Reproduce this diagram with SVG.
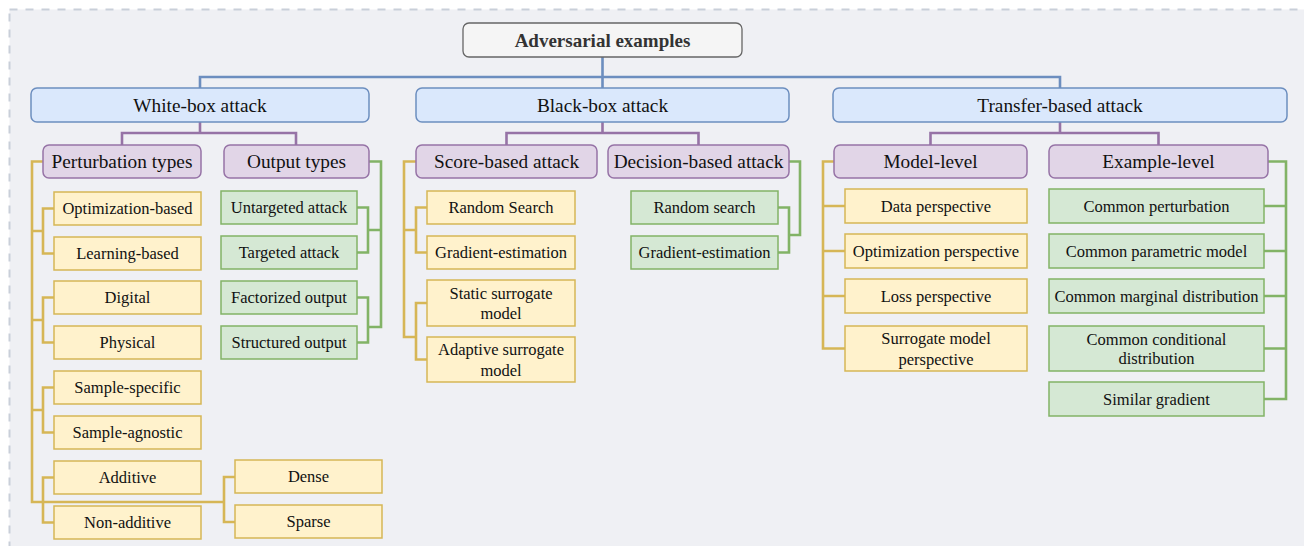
<svg xmlns="http://www.w3.org/2000/svg" width="1304" height="546" viewBox="0 0 1304 546">
<style>
text{font-family:"Liberation Serif","Times New Roman",serif;fill:#111;text-anchor:middle;dominant-baseline:central}
.t0{font-size:19px;font-weight:bold;fill:#333}
.t1{font-size:19.3px}
.t2{font-size:16.5px}
.root{fill:#f5f5f5;stroke:#666;stroke-width:1.3}
.blue{fill:#dae8fc;stroke:#6c8ebf;stroke-width:1.5}
.pur{fill:#e1d5e7;stroke:#9673a6;stroke-width:1.5}
.yel{fill:#fff2cc;stroke:#d6b656;stroke-width:1.5}
.grn{fill:#d5e8d4;stroke:#82b366;stroke-width:1.5}
.c{fill:none;stroke-width:2.6;stroke-linejoin:miter}
.cb{stroke:#6c8ebf}.cp{stroke:#9673a6}.cy{stroke:#d6b656}.cg{stroke:#82b366}
</style>
<rect x="9.5" y="9.5" width="1310" height="560" fill="#eff0f4" stroke="#c9cfd9" stroke-width="2" stroke-dasharray="8 8"/>
<g id="connectors">
<path class="c cb" d="M602.5,57V88M200,88V77H1060V88"/>
<path class="c cp" d="M200,122V133M122,145V133H296V145M602.5,122V133M506.5,145V133H698.5V145M1060,122V133M930.5,145V133H1158.5V145"/>
<path class="c cy" d="M43,161.5H32V502H224M235,477H224V522H235M54,208.5H43V253.5H54M32,231H43M54,297.5H43V342.5H54M32,320H43M54,387.5H43V432.5H54M32,410H43M54,477.5H43V522.5H54"/>
<path class="c cg" d="M369,161.5H381V327H368M357,207.5H368V252.5H357M368,230H381M357,297.5H368V342.5H357"/>
<path class="c cy" d="M416,161.5H404V337H416M427,207.5H416V252.5H427M404,230H416M427,303H416V359.5H427"/>
<path class="c cg" d="M789,161.5H800V235H789M778,207.5H789V252.5H778"/>
<path class="c cy" d="M834,161.5H823V348.5H845M823,206H845M823,251H845M823,296H845"/>
<path class="c cg" d="M1268,161.5H1286V399H1264M1286,206H1264M1286,251H1264M1286,296H1264M1286,348.5H1264"/>
</g>
<g id="root"><rect class="root" x="463" y="23" width="279" height="34" rx="6"/><text class="t0" x="602.5" y="40">Adversarial examples</text></g>
<g id="white-box"><rect class="blue" x="31" y="88" width="338" height="34" rx="6"/><text class="t1" x="200" y="105">White-box attack</text></g>
<g id="black-box"><rect class="blue" x="416" y="88" width="373" height="34" rx="6"/><text class="t1" x="602.5" y="105">Black-box attack</text></g>
<g id="transfer"><rect class="blue" x="833" y="88" width="454" height="34" rx="6"/><text class="t1" x="1060" y="105">Transfer-based attack</text></g>
<g id="perturbation-types"><rect class="pur" x="43" y="145" width="158" height="33" rx="6"/><text class="t1" x="122" y="161.5">Perturbation types</text></g>
<g id="output-types"><rect class="pur" x="224" y="145" width="145" height="33" rx="6"/><text class="t1" x="296.5" y="161.5">Output types</text></g>
<g id="score-based"><rect class="pur" x="416" y="145" width="181" height="33" rx="6"/><text class="t1" x="506.5" y="161.5">Score-based attack</text></g>
<g id="decision-based"><rect class="pur" x="608" y="145" width="181" height="33" rx="6"/><text class="t1" x="698.5" y="161.5">Decision-based attack</text></g>
<g id="model-level"><rect class="pur" x="834" y="145" width="193" height="33" rx="6"/><text class="t1" x="930.5" y="161.5">Model-level</text></g>
<g id="example-level"><rect class="pur" x="1049" y="145" width="219" height="33" rx="6"/><text class="t1" x="1158.5" y="161.5">Example-level</text></g>
<g id="optimization-based"><rect class="yel" x="54" y="192" width="147" height="33"/><text class="t2" x="127.5" y="208.5">Optimization-based</text></g>
<g id="learning-based"><rect class="yel" x="54" y="237" width="147" height="33"/><text class="t2" x="127.5" y="253.5">Learning-based</text></g>
<g id="digital"><rect class="yel" x="54" y="281" width="147" height="33"/><text class="t2" x="127.5" y="297.5">Digital</text></g>
<g id="physical"><rect class="yel" x="54" y="326" width="147" height="33"/><text class="t2" x="127.5" y="342.5">Physical</text></g>
<g id="sample-specific"><rect class="yel" x="54" y="371" width="147" height="33"/><text class="t2" x="127.5" y="387.5">Sample-specific</text></g>
<g id="sample-agnostic"><rect class="yel" x="54" y="416" width="147" height="33"/><text class="t2" x="127.5" y="432.5">Sample-agnostic</text></g>
<g id="additive"><rect class="yel" x="54" y="461" width="147" height="33"/><text class="t2" x="127.5" y="477.5">Additive</text></g>
<g id="non-additive"><rect class="yel" x="54" y="506" width="147" height="33"/><text class="t2" x="127.5" y="522.5">Non-additive</text></g>
<g id="dense"><rect class="yel" x="235" y="460" width="147" height="33"/><text class="t2" x="308.5" y="476.5">Dense</text></g>
<g id="sparse"><rect class="yel" x="235" y="505" width="147" height="33"/><text class="t2" x="308.5" y="521.5">Sparse</text></g>
<g id="untargeted"><rect class="grn" x="221" y="191" width="136" height="33"/><text class="t2" x="289" y="207.5">Untargeted attack</text></g>
<g id="targeted"><rect class="grn" x="221" y="236" width="136" height="33"/><text class="t2" x="289" y="252.5">Targeted attack</text></g>
<g id="factorized"><rect class="grn" x="221" y="281" width="136" height="33"/><text class="t2" x="289" y="297.5">Factorized output</text></g>
<g id="structured"><rect class="grn" x="221" y="326" width="136" height="33"/><text class="t2" x="289" y="342.5">Structured output</text></g>
<g id="random-search-s"><rect class="yel" x="427" y="191" width="148" height="33"/><text class="t2" x="501" y="207.5">Random Search</text></g>
<g id="gradient-est-s"><rect class="yel" x="427" y="236" width="148" height="33"/><text class="t2" x="501" y="252.5">Gradient-estimation</text></g>
<g id="static-surrogate"><rect class="yel" x="427" y="280" width="148" height="46"/><text class="t2" x="501" y="293">Static surrogate</text><text class="t2" x="501" y="313">model</text></g>
<g id="adaptive-surrogate"><rect class="yel" x="427" y="337" width="148" height="45"/><text class="t2" x="501" y="349">Adaptive surrogate</text><text class="t2" x="501" y="370">model</text></g>
<g id="random-search-d"><rect class="grn" x="631" y="191" width="147" height="33"/><text class="t2" x="704.5" y="207.5">Random search</text></g>
<g id="gradient-est-d"><rect class="grn" x="631" y="236" width="147" height="33"/><text class="t2" x="704.5" y="252.5">Gradient-estimation</text></g>
<g id="data-perspective"><rect class="yel" x="845" y="189" width="182" height="34"/><text class="t2" x="936" y="206">Data perspective</text></g>
<g id="optimization-perspective"><rect class="yel" x="845" y="234" width="182" height="34"/><text class="t2" x="936" y="251">Optimization perspective</text></g>
<g id="loss-perspective"><rect class="yel" x="845" y="279" width="182" height="34"/><text class="t2" x="936" y="296">Loss perspective</text></g>
<g id="surrogate-perspective"><rect class="yel" x="845" y="326" width="182" height="45"/><text class="t2" x="936" y="338">Surrogate model</text><text class="t2" x="936" y="359">perspective</text></g>
<g id="common-perturbation"><rect class="grn" x="1049" y="189" width="215" height="34"/><text class="t2" x="1156.5" y="206">Common perturbation</text></g>
<g id="common-parametric"><rect class="grn" x="1049" y="234" width="215" height="34"/><text class="t2" x="1156.5" y="251">Common parametric model</text></g>
<g id="common-marginal"><rect class="grn" x="1049" y="279" width="215" height="34"/><text class="t2" x="1156.5" y="296">Common marginal distribution</text></g>
<g id="common-conditional"><rect class="grn" x="1049" y="326" width="215" height="45"/><text class="t2" x="1156.5" y="339">Common conditional</text><text class="t2" x="1156.5" y="358">distribution</text></g>
<g id="similar-gradient"><rect class="grn" x="1049" y="382" width="215" height="34"/><text class="t2" x="1156.5" y="399">Similar gradient</text></g>
</svg>
